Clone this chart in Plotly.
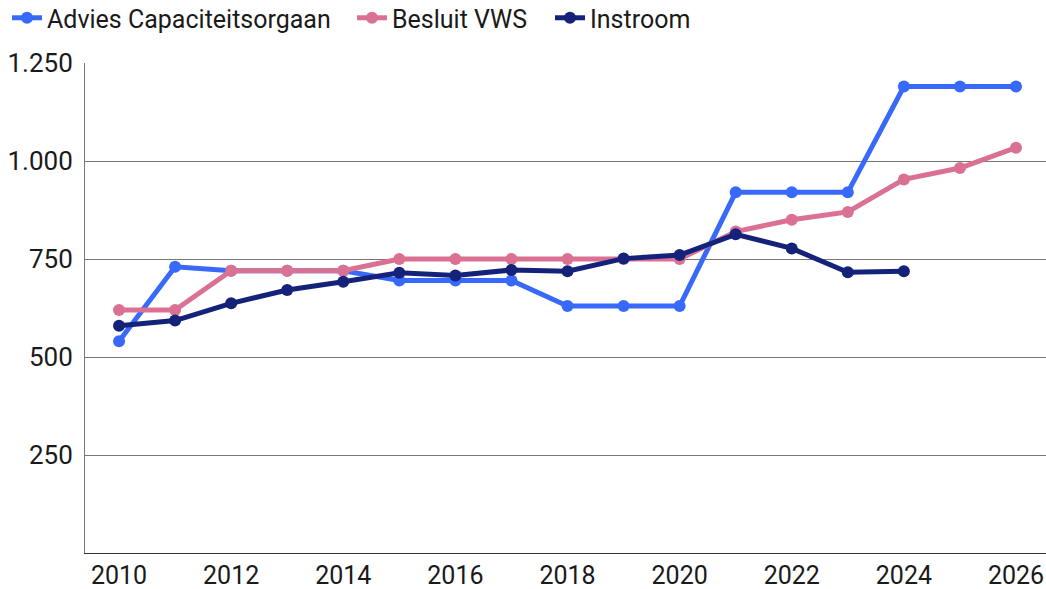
import plotly.graph_objects as go

years = list(range(2010, 2027))
advies = [540, 730, 720, 720, 720, 695, 695, 695, 630, 630, 630, 920, 920, 920, 1190, 1190, 1190]
besluit = [620, 620, 720, 720, 720, 750, 750, 750, 750, 750, 750, 820, 850, 870, 953, 982, 1034]
instroom_years = list(range(2010, 2025))
instroom = [580, 593, 637, 671, 692, 715, 708, 722, 719, 751, 760, 813, 777, 716, 719]

y_tickvals = [250, 500, 750, 1000, 1250]
y_ticktext = ["250", "500", "750", "1.000", "1.250"]
x_tickvals = list(range(2010, 2027, 2))

series = [
    ("Advies Capaciteitsorgaan", years, advies, "#3869FA", "legend", 0.0067),
    ("Besluit VWS", years, besluit, "#DA7193", "legend2", 0.3365),
    ("Instroom", instroom_years, instroom, "#15227A", "legend3", 0.5258),
]

fig = go.Figure()
for name, xs, ys, col, leg, _ in series:
    fig.add_trace(go.Scatter(
        x=xs, y=ys, name=name, mode="lines+markers",
        line=dict(color=col, width=5),
        marker=dict(color=col, size=12),
        legend=leg,
    ))

legend_common = dict(orientation="h", xref="container", xanchor="left",
                     y=0.9694, yref="container", yanchor="middle",
                     font=dict(size=25, color="#1a1a1a"), itemwidth=30,
                     bgcolor="rgba(0,0,0,0)")
layout_legends = {}
for name, xs, ys, col, leg, lx in series:
    layout_legends[leg] = dict(legend_common, x=lx)

fig.update_layout(
    width=1046, height=589,
    margin=dict(l=85, r=0, t=63, b=36),
    paper_bgcolor="white", plot_bgcolor="white",
    font=dict(family="Roboto", size=25, color="#1a1a1a"),
    showlegend=True,
    xaxis=dict(range=[2009.393, 2026.535], tickvals=x_tickvals,
               ticktext=[str(v) for v in x_tickvals], automargin=False,
               showgrid=False, showline=True, linecolor="#333333", linewidth=1,
               ticks="", zeroline=False),
    yaxis=dict(range=[0, 1250], tickvals=y_tickvals, ticktext=y_ticktext,
               automargin=False, ticklabelstandoff=6,
               tickfont=dict(size=26),
               showgrid=True, gridcolor="#777777", gridwidth=1,
               showline=True, linecolor="#777777", linewidth=1,
               ticks="", zeroline=False),
    **layout_legends,
)

fig.write_html("out.html", config={"displayModeBar": False},
               post_script="document.body.style.margin='0';")
